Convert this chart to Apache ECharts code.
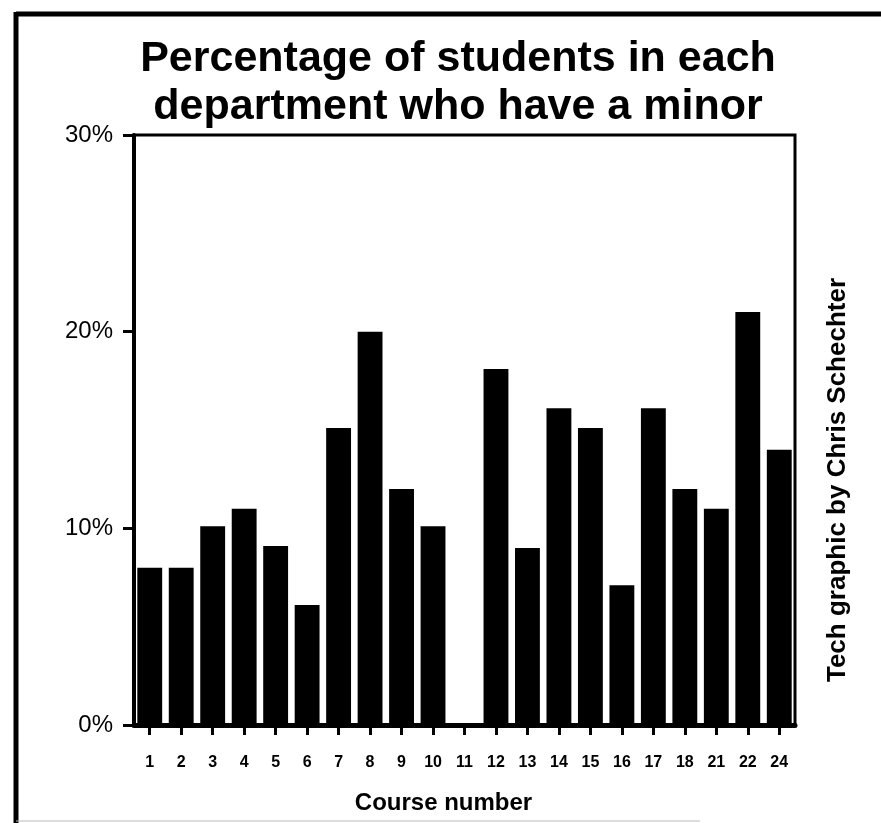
<!DOCTYPE html>
<html>
<head>
<meta charset="utf-8">
<script src="https://cdn.jsdelivr.net/npm/echarts@6/dist/echarts.min.js"></script>
<style>html,body{margin:0;padding:0;background:#fff}#c{width:881px;height:823px}</style>
</head>
<body>
<div id="c"></div>
<script>
const courses = ['1','2','3','4','5','6','7','8','9','10','11','12','13','14','15','16','17','18','21','22','24'];
const minorPct = [8,8,10.1,11,9.1,6.1,15.1,20,12,10.1,0,18.1,9,16.1,15.1,7.1,16.1,12,11,21,14];
const yTicks = [0,10,20,30];
const titleLines = ['Percentage of students in each','department who have a minor'];

const chart = echarts.init(document.getElementById('c'), null, {renderer:'canvas'});
chart.setOption({
  backgroundColor:'#fff',
  animation:false,
  title:{
    text: titleLines.join('\n'),
    left: 453, top: 30, textAlign:'center',
    textStyle:{fontFamily:'Liberation Sans', fontWeight:'bold', fontSize:43, lineHeight:48, color:'#000'}
  },
  grid:{left:134, right:86, top:135, bottom:98, show:true, borderColor:'#000', borderWidth:3},
  xAxis:{
    type:'category', data:courses,
    name:'Course number', nameLocation:'middle', nameGap:66,
    nameTextStyle:{fontFamily:'Liberation Sans', fontWeight:'bold', fontSize:24, color:'#000', padding:[0,42,0,0]},
    axisLine:{show:true, lineStyle:{color:'#000', width:5}},
    axisTick:{show:true, alignWithLabel:true, length:10, lineStyle:{color:'#000', width:3}},
    axisLabel:{show:true, fontFamily:'Liberation Sans', fontWeight:'bold', fontSize:16, color:'#000', margin:30, interval:0}
  },
  yAxis:{
    type:'value', min:0, max:30, interval:10,
    axisLine:{show:true, lineStyle:{color:'#000', width:4}},
    axisTick:{show:true, length:11, lineStyle:{color:'#000', width:3}},
    splitLine:{show:false},
    axisLabel:{fontFamily:'Liberation Sans', fontSize:24, color:'#000', margin:21,
      formatter:v => yTicks.includes(v) ? v + '%' : ''}
  },
  series:[{
    type:'bar', data:minorPct, barWidth:'79%',
    itemStyle:{color:'#000'}
  }],
  graphic:[
    {type:'line', shape:{x1:16, y1:14, x2:881, y2:14}, style:{stroke:'#000', lineWidth:5}},
    {type:'line', shape:{x1:16, y1:12, x2:16, y2:823}, style:{stroke:'#000', lineWidth:5}},
    {type:'line', shape:{x1:16, y1:821, x2:700, y2:821}, style:{stroke:'#bbb', lineWidth:1}},
    {type:'text', x:838, y:480, rotation:Math.PI/2,
      style:{text:'Tech graphic by Chris Schechter', fontFamily:'Liberation Sans', fontWeight:'bold', fontSize:26, fill:'#000', align:'center', verticalAlign:'middle'}}
  ]
});
</script>
</body>
</html>
